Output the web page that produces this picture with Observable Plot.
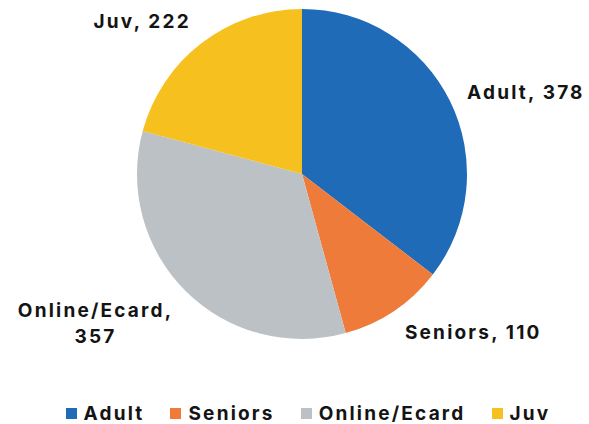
<!DOCTYPE html>
<html><head><meta charset="utf-8">
<script src="https://cdn.jsdelivr.net/npm/d3@7"></script>
<script src="https://cdn.jsdelivr.net/npm/@observablehq/plot@0.6"></script>
<style>
body{margin:0;background:#fff;}
#chart{width:589px;height:424px;overflow:hidden;background:#fff;}
#chart svg.pie{display:block;}
#legend .lg-swatches{font:700 19px Inter,sans-serif !important;letter-spacing:2.2px;color:#141414 !important;display:flex !important;justify-content:center !important;align-items:center !important;margin:2px 0 0 0 !important;min-height:26px !important;padding-left:27px;}
#legend .lg-swatch{margin-right:26px !important;display:inline-flex;align-items:center;}
#legend .lg-swatch:last-child{margin-right:0 !important;}
#legend .lg-swatch > svg{margin-right:7px !important;}
</style></head><body><div id="chart"><div id="plot"></div><div id="legend"></div></div>
<script>
const categories = ["Adult", "Seniors", "Online/Ecard", "Juv"];
const values = [378, 110, 357, 222];
const colors = ["#1f6bb8", "#ef7b3b", "#bcc1c6", "#f6c11e"];

const W = 589, H = 398, R = 165, CX = 302, CY = 174;
const FS = 19, LS = 2.2, LH = 1.4, FONT = `700 ${FS}px Inter, sans-serif`;

const data = categories.map((c, i) => ({category: c, value: values[i]}));
const arcs = d3.pie().sort(null).value(d => d.value)(data);

const ctx = document.createElement("canvas").getContext("2d");
ctx.font = FONT;
const measure = s => ctx.measureText(s).width + LS * s.length;

// label layout computed from the slice angles (Excel-like "best fit" outside end)
const labels = arcs.map(a => {
  const t = (a.startAngle + a.endAngle) / 2;
  const s = Math.sin(t), c = Math.cos(t);
  let text = `${a.data.category}, ${a.data.value}`;
  if (measure(text) > 160) text = `${a.data.category},\n${a.data.value}`;
  const lines = text.split("\n");
  const w = d3.max(lines, measure);
  const h = 0.73 * FS + (lines.length - 1) * LH * FS;
  const k = 1.11;
  const hx = (s > 0 ? 1 : -1) * w / 2;
  const vy = c > 0.5 ? h / 2 : c < -0.5 ? -h / 2 : 0;
  return {text, x: k * s + hx / R, y: k * c + vy / R};
});

function slices(index, scales) {
  const cx = scales.x(0), cy = scales.y(0), r = scales.x(1) - scales.x(0);
  const color = scales.color ?? d3.scaleOrdinal(categories, colors);
  const arc = d3.arc().innerRadius(0).outerRadius(r);
  const g = d3.create("svg:g").attr("transform", `translate(${cx},${cy})`);
  g.selectAll("path").data(arcs).join("path")
    .attr("d", arc)
    .attr("fill", d => color(d.data.category));
  return g.node();
}

const plot = Plot.plot({
  width: W, height: H, margin: 0,
  className: "pie",
  style: {background: "#fff", overflow: "visible"},
  x: {domain: [-1, 1], range: [CX - R, CX + R], axis: null},
  y: {domain: [-1, 1], range: [CY + R, CY - R], axis: null},
  color: {type: "ordinal", domain: categories, range: colors},
  marks: [
    slices,
    Plot.text(labels, {
      x: "x", y: "y", text: "text", dy: -3,
      textAnchor: "middle", lineAnchor: "middle", lineHeight: LH,
      fontSize: FS, fontWeight: 700, fontFamily: "Inter, sans-serif",
      fill: "#141414"
    })
  ]
});
plot.querySelectorAll("text").forEach(t => t.style.letterSpacing = LS + "px");
document.getElementById("plot").append(plot);

const legend = Plot.legend({
  color: {type: "ordinal", domain: categories, range: colors},
  swatchSize: 11, className: "lg"
});
document.getElementById("legend").append(legend);
</script></body></html>
